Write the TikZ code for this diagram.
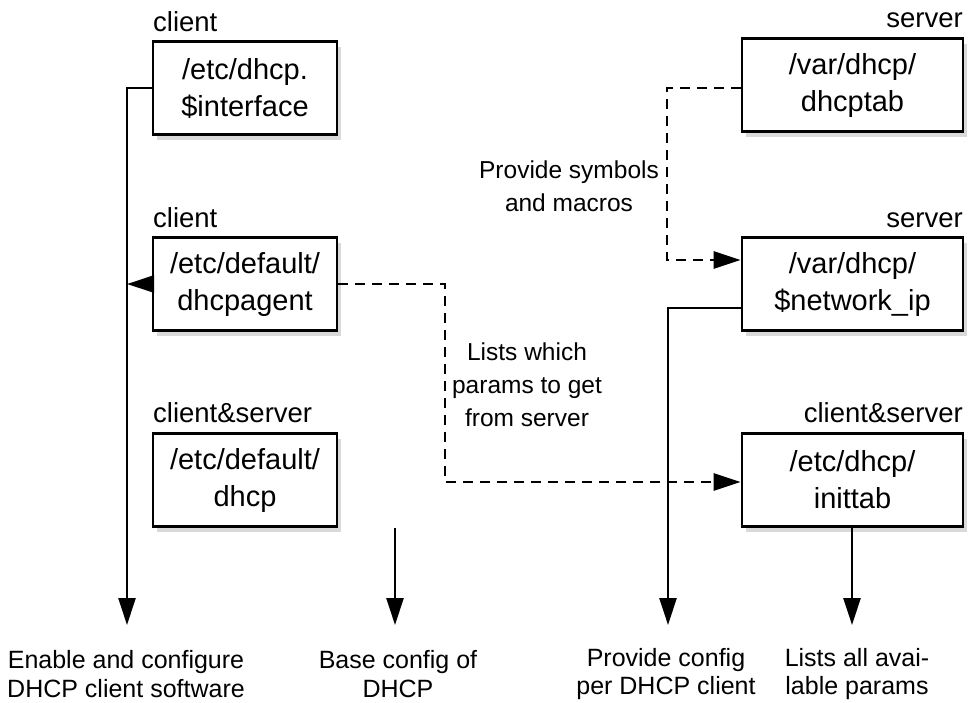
\documentclass[tikz,border=0pt]{standalone}
\usepackage{fontspec}
\setmainfont{Liberation Sans}
\usetikzlibrary{arrows.meta,shadows}
\begin{document}
\begin{tikzpicture}[x=1pt,y=-1pt,
  filebox/.style={draw,line width=2.7pt,fill=white,minimum width=184pt,minimum height=93pt,
    align=center,inner sep=0pt,font=\fontsize{29}{37}\selectfont,
    drop shadow={shadow xshift=4pt,shadow yshift=-5pt,opacity=0.3}},
  widebox/.style={filebox,minimum width=221pt},
  hdr/.style={inner sep=0pt,font=\fontsize{27.5}{30}\selectfont},
  note/.style={inner sep=0pt,align=center,font=\fontsize{24.5}{33}\selectfont},
  bnote/.style={inner sep=0pt,align=center,font=\fontsize{25}{28.5}\selectfont},
  conn/.style={line width=2.7pt},
  dconn/.style={line width=2.7pt,dash pattern=on 10pt off 7pt},
  tip/.style={-{Triangle[length=27pt,width=17pt]}}]
\useasboundingbox (0,0) rectangle (969,702);

% boxes
\node[filebox] (b1) at (245,88) {/etc/dhcp.\\\$interface};
\node[filebox] (b2) at (245,284) {/etc/default/\\dhcpagent};
\node[filebox] (b3) at (245,480) {/etc/default/\\dhcp};
\node[widebox] (b4) at (852.5,85) {/var/dhcp/\\dhcptab};
\node[widebox] (b5) at (852.5,284) {/var/dhcp/\\\$network\_ip};
\node[widebox] (b6) at (852.5,480) {/etc/dhcp/\\inittab};

% headers
\node[hdr,anchor=base west] (h1) at (153,31) {client};
\node[hdr,anchor=base west] (h2) at (153,227) {client};
\node[hdr,anchor=base west] (h3) at (153,422) {client\&server};
\node[hdr,anchor=base east] (h4) at (963,27) {server};
\node[hdr,anchor=base east] (h5) at (963,227) {server};
\node[hdr,anchor=base east] (h6) at (963,422) {client\&server};

% middle notes
\node[note] (n1) at (569,186) {Provide symbols\\and macros};
\node[note] (n2) at (527,385) {Lists which\\params to get\\from server};

% bottom notes
\node[bnote] (o1) at (126,674) {Enable and configure\\DHCP client software};
\node[bnote] (o2) at (398,674) {Base config of\\DHCP};
\node[bnote] (o3) at (666,674) {Provide config\\per DHCP client};
\node[bnote] (o4) at (857,674) {Lists all avai-\\lable params};

% coordinates
\coordinate (l1) at (127,88);
\coordinate (l2) at (127,625);
\coordinate (l3) at (127,284);
\coordinate (d1) at (445,284);
\coordinate (d2) at (445,482);
\coordinate (e1) at (667,88);
\coordinate (e2) at (667,260);
\coordinate (s1) at (668,308);
\coordinate (s2) at (668,625);
\coordinate (t3) at (395,625);
\coordinate (t6) at (852,625);

% connectors
\draw[conn,tip] (b1.west |- l1) -- (l1) -- (l2);
\draw[conn,tip] (b2.west) -- (l3);
\draw[conn,tip] (b3.south -| t3) -- (t3);
\draw[conn,tip] (b6.south -| t6) -- (t6);
\draw[dconn,tip] (b2.east) -- (d1) -- (d2) -- (b6.west |- d2);
\draw[dconn,tip] (b4.west |- e1) -- (e1) -- (e2) -- (b5.west |- e2);
\draw[conn,tip] (b5.west |- s1) -- (s1) -- (s2);
\end{tikzpicture}
\end{document}
